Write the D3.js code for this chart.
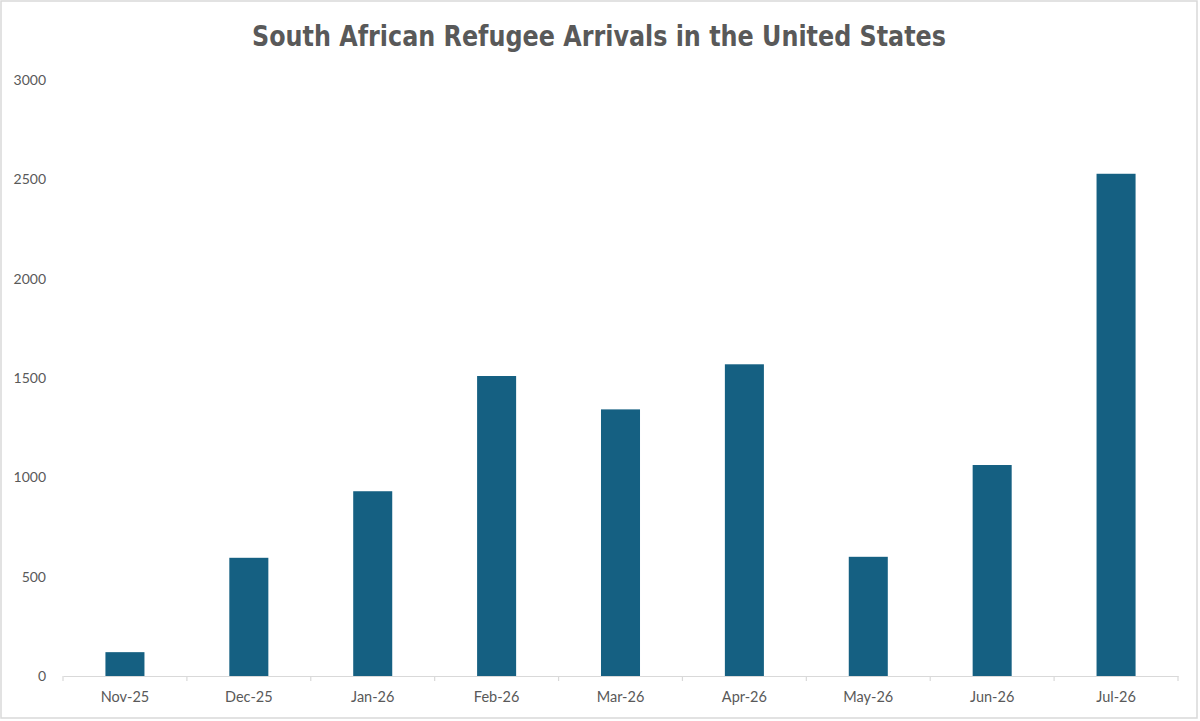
<!DOCTYPE html>
<html>
<head>
<meta charset="utf-8">
<script src="https://cdn.jsdelivr.net/npm/d3@7"></script>
<style>
  body { margin: 0; background: #fff; }
  svg { display: block; }
</style>
</head>
<body>
<div id="viz"></div>
<script>
const months = ['Nov-25', 'Dec-25', 'Jan-26', 'Feb-26', 'Mar-26', 'Apr-26', 'May-26', 'Jun-26', 'Jul-26'];
const arrivals = [120, 595, 930, 1510, 1342, 1569, 600, 1062, 2528];
const yTicks = [0, 500, 1000, 1500, 2000, 2500, 3000];
const title = 'South African Refugee Arrivals in the United States';

const W = 1200, H = 721;
const margin = {top: 80, right: 22, bottom: 45, left: 63};

const svg = d3.select('#viz').append('svg')
    .attr('width', W)
    .attr('height', H);

svg.append('rect')
    .attr('x', 1).attr('y', 1)
    .attr('width', W - 4).attr('height', H - 4)
    .attr('fill', '#fff')
    .attr('stroke', '#d9d9d9')
    .attr('stroke-width', 1.5);

let x = d3.scaleBand()
    .domain(months)
    .range([margin.left, W - margin.right])
    .paddingInner(0.685)
    .paddingOuter(0.3425);

let y = d3.scaleLinear()
    .domain([0, 3000])
    .range([676, 80]);

// title
svg.append('text')
    .attr('x', 599)
    .attr('y', 46)
    .attr('text-anchor', 'middle')
    .attr('font-family', "'Liberation Sans Narrow', 'DejaVu Sans Condensed', sans-serif")
    .attr('font-weight', 'bold')
    .attr('font-size', 29)
    .attr('fill', '#595959')
    .attr('textLength', 694)
    .attr('lengthAdjust', 'spacingAndGlyphs')
    .text(title);

// y labels (no axis line)
svg.selectAll('.ylab')
    .data(yTicks)
    .enter()
    .append('text')
    .attr('class', 'ylab')
    .attr('x', 46)
    .attr('y', d => y(d))
    .attr('dy', '0.35em')
    .attr('text-anchor', 'end')
    .attr('font-family', "Lato, 'Open Sans', sans-serif")
    .attr('font-size', 14)
    .attr('fill', '#595959')
    .text(d => d);

// bars
svg.selectAll('.bar')
    .data(arrivals)
    .enter()
    .append('rect')
    .attr('class', 'bar')
    .attr('x', (d, i) => x(months[i]))
    .attr('y', d => y(d))
    .attr('width', x.bandwidth())
    .attr('height', d => y(0) - y(d))
    .attr('fill', '#156082');

// x axis
let xAxis = d3.axisBottom(x).tickSize(0).tickSizeOuter(0);
let gx = svg.append('g')
    .attr('transform', `translate(0,${y(0)})`)
    .call(xAxis);
gx.select('.domain')
    .attr('stroke', '#d9d9d9')
    .attr('stroke-width', 1.2);
gx.selectAll('.tick text')
    .attr('dy', 0)
    .attr('y', 26)
    .attr('font-family', "Lato, 'Open Sans', sans-serif")
    .attr('font-size', 14.5)
    .attr('fill', '#595959');

// category dividers
let step = x.step();
let edges = d3.range(months.length + 1).map(i => margin.left + i * step);
svg.selectAll('.divider')
    .data(edges)
    .enter()
    .append('line')
    .attr('class', 'divider')
    .attr('x1', d => d).attr('x2', d => d)
    .attr('y1', y(0)).attr('y2', y(0) + 5)
    .attr('stroke', '#d9d9d9')
    .attr('stroke-width', 1.2);
</script>
</body>
</html>
